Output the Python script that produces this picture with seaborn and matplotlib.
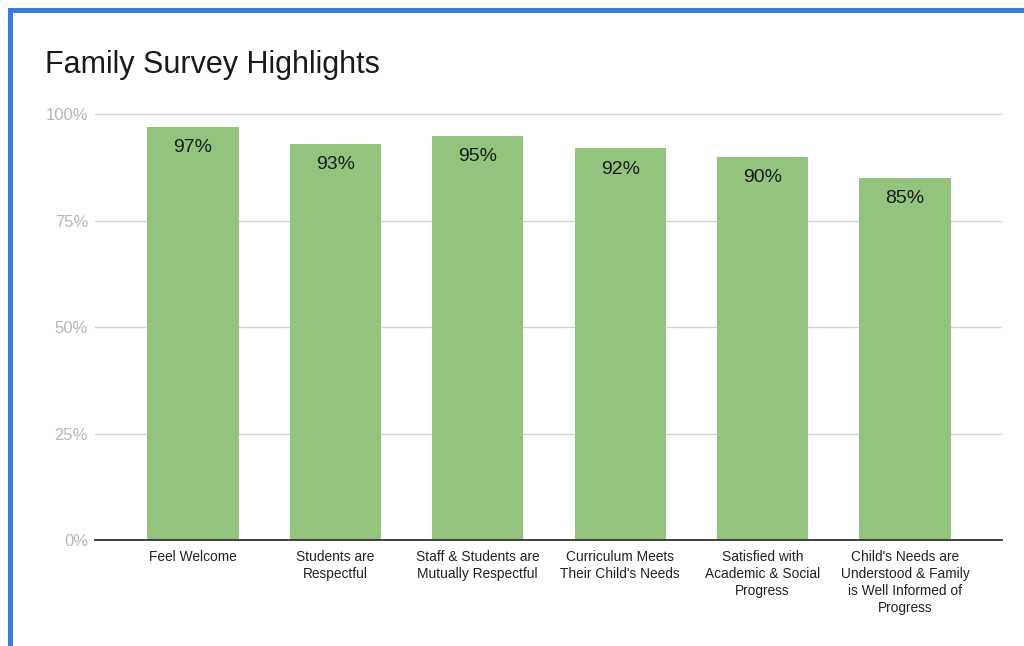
import matplotlib
matplotlib.use("Agg")
import matplotlib.pyplot as plt
from matplotlib.patches import Rectangle
from matplotlib.ticker import FixedLocator
import seaborn as sns
import pandas as pd

categories = [
    "Feel Welcome",
    "Students are\nRespectful",
    "Staff & Students are\nMutually Respectful",
    "Curriculum Meets\nTheir Child's Needs",
    "Satisfied with\nAcademic & Social\nProgress",
    "Child's Needs are\nUnderstood & Family\nis Well Informed of\nProgress",
]
values = [97, 93, 95, 92, 90, 85]
y_ticks = [0, 25, 50, 75, 100]
y_tick_labels = ["0%", "25%", "50%", "75%", "100%"]
title = "Family Survey Highlights"

sns.set_theme(style="white")
plt.rcParams["font.family"] = ["Liberation Sans", "DejaVu Sans"]

W, H = 1024, 646
fig = plt.figure(figsize=(W / 100, H / 100), dpi=100)
fig.patch.set_facecolor("white")

left, right, top, bottom = 95, 1002, 113, 540
ax = fig.add_axes([left / W, 1 - bottom / H, (right - left) / W, (bottom - top) / H])

df = pd.DataFrame({"cat": categories, "val": values})
sns.barplot(data=df, x="cat", y="val", color="#93c47d", saturation=1,
            width=0.64, linewidth=0, ax=ax, zorder=3)

ax.set_xlim(-0.688, 5.681)
ax.set_ylim(0, 100.3)
ax.yaxis.set_major_locator(FixedLocator(y_ticks))
ax.set_yticklabels(y_tick_labels)
ax.grid(axis="y", color="#d3d3d3", linewidth=1.0, zorder=0)
ax.grid(axis="x", visible=False)
for s in ["top", "right", "left"]:
    ax.spines[s].set_visible(False)
ax.spines["bottom"].set_color("#333333")
ax.spines["bottom"].set_linewidth(1.3)
ax.spines["bottom"].set_zorder(4)
ax.set_xlabel("")
ax.set_ylabel("")
ax.tick_params(axis="y", length=0, pad=5, labelsize=12, labelcolor="#b7b7b7")
ax.tick_params(axis="x", length=0, pad=7.5, labelsize=9.9, labelcolor="#222222")
for lab in ax.get_xticklabels():
    lab.set_linespacing(1.27)
    lab.set_va("top")

for i, v in enumerate(values):
    ax.annotate(f"{v}%", xy=(i, v), xytext=(0, -15), textcoords="offset points",
                ha="center", va="center", fontsize=14, color="#1a1a1a", zorder=5)

fig.text(45 / W, 1 - 73 / H, title, fontsize=22, color="#1a1a1a",
         ha="left", va="baseline")

blue = "#3d7bd9"
fig.add_artist(Rectangle((8 / W, 0), 5 / W, 1 - 8 / H, transform=fig.transFigure,
                         facecolor=blue, edgecolor="none"))
fig.add_artist(Rectangle((8 / W, 1 - 13 / H), 1 - 8 / W, 5 / H, transform=fig.transFigure,
                         facecolor=blue, edgecolor="none"))

fig.savefig("out.png", dpi=100)
